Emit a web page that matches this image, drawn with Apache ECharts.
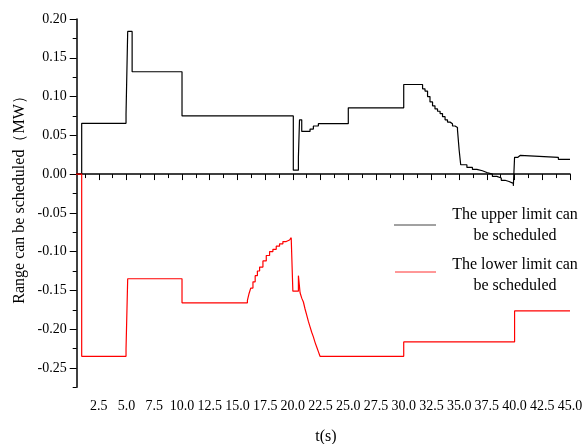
<!DOCTYPE html>
<html>
<head>
<meta charset="utf-8">
<script src="https://cdn.jsdelivr.net/npm/echarts@6/dist/echarts.min.js"></script>
<style>html,body{margin:0;padding:0;background:#fff}#c{width:587px;height:444px}</style>
</head>
<body>
<div id="c"></div>
<script>
// [time (s), value (MW)] — value holds from this time until the next point
const upperLimit = [
  [0.0, 0.000], [0.95, 0.0655], [4.95, 0.077], [5.1, 0.184], [5.5, 0.132],
  [10.0, 0.075], [20.04, 0.005], [20.5, 0.022], [20.6, 0.070], [20.8, 0.055],
  [21.55, 0.058], [21.85, 0.062], [22.3, 0.065], [25.0, 0.0855], [30.0, 0.1155],
  [31.7, 0.110], [31.92, 0.107], [32.15, 0.100], [32.37, 0.093], [32.6, 0.088],
  [32.82, 0.084], [33.05, 0.081], [33.28, 0.078], [33.5, 0.074], [33.73, 0.070],
  [33.95, 0.067], [34.18, 0.065], [34.4, 0.062], [34.63, 0.060], [34.85, 0.057],
  [35.0, 0.031], [35.14, 0.012], [35.7, 0.0086], [36.2, 0.006], [36.6, 0.0043],
  [37.1, 0.002], [37.5, 0.000], [38.0, -0.003], [38.4, -0.005], [38.8, -0.008],
  [39.14, -0.0096], [39.5, -0.012], [39.89, -0.0152], [40.0, 0.0216], [40.3, 0.024],
  [40.5, 0.0216], [43.95, 0.019], [45.0, 0.019]
];
const lowerLimit = [
  [0.0, 0.000], [0.95, -0.235], [4.95, -0.226], [5.1, -0.135], [10.0, -0.166],
  [15.9, -0.163], [16.05, -0.154], [16.2, -0.147], [16.4, -0.139], [16.6, -0.131],
  [16.8, -0.125], [17.0, -0.120], [17.3, -0.112], [17.6, -0.105], [17.9, -0.100],
  [18.2, -0.097], [18.5, -0.093], [18.8, -0.090], [19.1, -0.087], [19.4, -0.085],
  [19.7, -0.084], [19.85, -0.082], [20.0, -0.151], [20.5, -0.131], [20.65, -0.153],
  [20.8, -0.160], [20.95, -0.165], [21.1, -0.174], [21.25, -0.182], [21.4, -0.190],
  [21.55, -0.197], [21.7, -0.204], [21.85, -0.210], [22.0, -0.217], [22.15, -0.223],
  [22.3, -0.229], [22.45, -0.235], [30.0, -0.2165], [40.0, -0.1765], [45.0, -0.1765]
];
const xLabelValues = [2.5, 5, 7.5, 10, 12.5, 15, 17.5, 20, 22.5, 25, 27.5, 30, 32.5, 35, 37.5, 40, 42.5, 45];
const xMinorTicks = [1.25, 3.75, 6.25, 8.75, 11.25, 13.75, 16.25, 18.75, 21.25, 23.75, 26.25, 28.75, 31.25, 33.75, 36.25, 38.75, 41.25, 43.75];
const yLabelValues = [-0.25, -0.2, -0.15, -0.1, -0.05, 0, 0.05, 0.1, 0.15, 0.2];
const yMinorTicks = [-0.275, -0.225, -0.175, -0.125, -0.075, -0.025, 0.025, 0.075, 0.125, 0.175];
const seriesNames = ['The upper limit can\nbe scheduled', 'The lower limit can\nbe scheduled'];
const xTitle = 't(s)';
const yTitle = 'Range can be scheduled（MW）';

const FONT = "'Liberation Serif', 'Times New Roman', serif";
const chart = echarts.init(document.getElementById('c'), null, {renderer: 'canvas'});
const axisLine = {show: true, lineStyle: {color: '#000', width: 1.5}};
const option = {
  animation: false,
  grid: {left: 76.7, right: 17, top: 19, bottom: 56.7, containLabel: false},
  xAxis: [
    {type: 'value', min: 0.5, max: 45, axisLine, splitLine: {show: false},
     axisTick: {show: true, inside: false, length: 6, customValues: xLabelValues, lineStyle: {color: '#000', width: 1}},
     axisLabel: {customValues: xLabelValues, formatter: v => v.toFixed(1), color: '#000',
                 fontFamily: FONT, fontSize: 14, margin: 12}},
    {type: 'value', min: 0.5, max: 45, position: 'bottom', axisLine: {show: false}, splitLine: {show: false},
     axisTick: {show: true, length: 4, customValues: xMinorTicks, lineStyle: {color: '#000', width: 1}},
     axisLabel: {show: false}}
  ],
  yAxis: [
    {type: 'value', min: -0.275, max: 0.2, axisLine, splitLine: {show: false},
     axisTick: {show: true, inside: false, length: 7, customValues: yLabelValues, lineStyle: {color: '#000', width: 1}},
     axisLabel: {customValues: yLabelValues, formatter: v => v.toFixed(2), color: '#000',
                 fontFamily: FONT, fontSize: 14, margin: 10}},
    {type: 'value', min: -0.275, max: 0.2, position: 'left', axisLine: {show: false}, splitLine: {show: false},
     axisTick: {show: true, length: 4, customValues: yMinorTicks, lineStyle: {color: '#000', width: 1}},
     axisLabel: {show: false}}
  ],
  series: [
    {name: seriesNames[0], type: 'line', step: 'end', data: upperLimit, showSymbol: false, clip: true,
     xAxisIndex: 0, yAxisIndex: 0, lineStyle: {color: '#000', width: 1.2}, z: 2},
    {name: seriesNames[1], type: 'line', step: 'end', data: lowerLimit, showSymbol: false, clip: true,
     xAxisIndex: 0, yAxisIndex: 0, lineStyle: {color: '#ff0000', width: 1.2}, z: 3}
  ],
  graphic: [
    {type: 'text', x: 326, y: 437, style: {text: xTitle, font: "16px " + FONT, fill: '#000', textAlign: 'center', textVerticalAlign: 'middle'}},
    {type: 'text', x: 20, y: 196, rotation: Math.PI / 2, style: {text: yTitle, font: "16px " + FONT, fill: '#000', textAlign: 'center', textVerticalAlign: 'middle'}},
    {type: 'line', shape: {x1: 394, y1: 225, x2: 436, y2: 225}, style: {stroke: '#444', lineWidth: 1}},
    {type: 'text', x: 515, y: 225.5, style: {text: seriesNames[0], font: "16px " + FONT, fill: '#000', textAlign: 'center', textVerticalAlign: 'middle', lineHeight: 21}},
    {type: 'line', shape: {x1: 395, y1: 272, x2: 436, y2: 272}, style: {stroke: '#ff3030', lineWidth: 1}},
    {type: 'text', x: 515, y: 275, style: {text: seriesNames[1], font: "16px " + FONT, fill: '#000', textAlign: 'center', textVerticalAlign: 'middle', lineHeight: 21}}
  ]
};
chart.setOption(option);
</script>
</body>
</html>
